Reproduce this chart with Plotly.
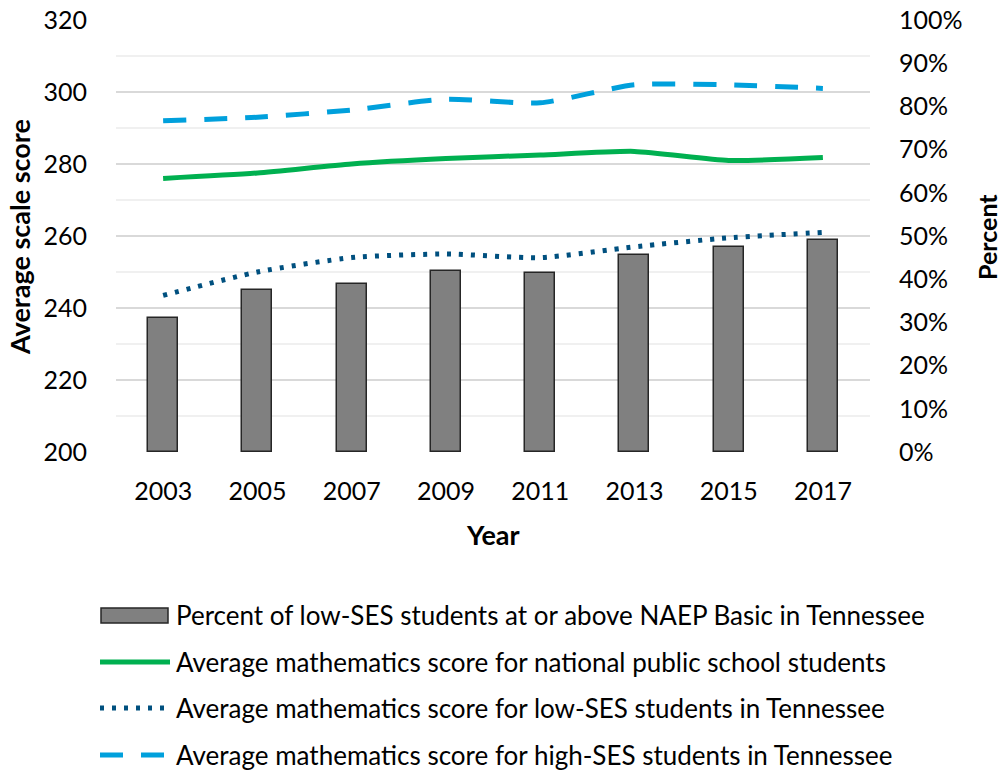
import plotly.graph_objects as go

years = ["2003", "2005", "2007", "2009", "2011", "2013", "2015", "2017"]
pct_low_ses_basic = [31, 37.6, 39, 41.8, 41.4, 45.5, 47.4, 49]
national_public = [276, 277.5, 280, 281.5, 282.5, 283.5, 281, 281.8]
low_ses_tn = [243.5, 250, 254, 255, 254, 257, 259.5, 261]
high_ses_tn = [292, 293, 295, 298, 297, 302, 302, 301]

left_ticks = [200, 220, 240, 260, 280, 300, 320]
right_ticks = [0, 10, 20, 30, 40, 50, 60, 70, 80, 90, 100]

names = [
    "Percent of low-SES students at or above NAEP Basic in Tennessee",
    "Average mathematics score for national public school students",
    "Average mathematics score for low-SES students in Tennessee",
    "Average mathematics score for high-SES students in Tennessee",
]

W, H = 1004, 770
# plot area in pixels: x 116..870, y 20..452
L, T = 116, 20
PW, PH = 870 - 116, 452 - 20
R = W - L - PW
B = H - T - PH
FONT = "Lato"


def px(x):
    return (x - L) / PW


def py(y):
    return (T + PH - y) / PH


C_GREEN = "#00B050"
C_DOT = "#00507F"
C_DASH = "#00A0DC"
C_BAR = "#808080"

fig = go.Figure()
fig.add_trace(go.Bar(x=years, y=pct_low_ses_basic, yaxis="y", width=0.32,
                     marker=dict(color=C_BAR, line=dict(color="#262626", width=1.5)),
                     name=names[0], showlegend=False))
fig.add_trace(go.Scatter(x=years, y=national_public, yaxis="y2", mode="lines",
                         line=dict(color=C_GREEN, width=5, shape="spline", smoothing=0.6),
                         name=names[1], showlegend=False))
fig.add_trace(go.Scatter(x=years, y=low_ses_tn, yaxis="y2", mode="lines",
                         line=dict(color=C_DOT, width=5, dash="4px,8px", shape="spline", smoothing=0.6),
                         name=names[2], showlegend=False))
fig.add_trace(go.Scatter(x=years, y=high_ses_tn, yaxis="y2", mode="lines",
                         line=dict(color=C_DASH, width=5, dash="23px,18px", shape="spline", smoothing=0.6),
                         name=names[3], showlegend=False))

tickfont = dict(family=FONT, size=25, color="#000000")
fig.update_layout(
    width=W, height=H,
    margin=dict(l=L, r=R, t=T, b=B, autoexpand=False),
    paper_bgcolor="white", plot_bgcolor="white",
    font=dict(family=FONT, color="#000000"),
    bargap=0,
    xaxis=dict(type="category", range=[-0.5, 7.5], showgrid=False, showline=False,
               zeroline=False, ticks="", tickfont=tickfont, ticklabelstandoff=22),
    yaxis=dict(side="right", range=[0, 100], tickvals=right_ticks,
               ticktext=[f"{v}%" for v in right_ticks], showgrid=False, zeroline=False,
               showline=False, ticks="", tickfont=tickfont, ticklabelstandoff=28),
    yaxis2=dict(side="left", overlaying="y", range=[200, 320], tickvals=left_ticks,
                showgrid=True, gridcolor="#D9D9D9", gridwidth=1.5, zeroline=False,
                showline=False, ticks="", tickfont=tickfont, ticklabelstandoff=28,
                minor=dict(dtick=10, tick0=200, showgrid=True, gridcolor="#F0F0F0", gridwidth=1.5)),
)

ann = [
    dict(x=px(19), y=py(237), text="<b>Average scale score</b>", textangle=-90, size=27),
    dict(x=px(987), y=py(237), text="<b>Percent</b>", textangle=-90, size=25),
    dict(x=px(493), y=py(534), text="<b>Year</b>", textangle=0, size=27),
]
for a in ann:
    size = a.pop("size")
    fig.add_annotation(xref="paper", yref="paper", showarrow=False, xanchor="center",
                       yanchor="middle", font=dict(family=FONT, size=size, color="#000000"), **a)

# custom legend
rows = [615, 662, 708, 755]
for i, (nm, yy) in enumerate(zip(names, rows)):
    fig.add_annotation(xref="paper", yref="paper", x=px(174), y=py(yy), text=nm,
                       showarrow=False, xanchor="left", yanchor="middle",
                       font=dict(family=FONT, size=26, color="#000000"))
fig.add_shape(type="rect", xref="paper", yref="paper", x0=px(101), x1=px(168),
              y0=py(623), y1=py(608), fillcolor=C_BAR, line=dict(color="#262626", width=1.5))
fig.add_shape(type="line", xref="paper", yref="paper", x0=px(100), x1=px(170),
              y0=py(rows[1]), y1=py(rows[1]), line=dict(color=C_GREEN, width=5))
fig.add_shape(type="line", xref="paper", yref="paper", x0=px(100), x1=px(170),
              y0=py(rows[2]), y1=py(rows[2]), line=dict(color=C_DOT, width=5, dash="4px,8px"))
fig.add_shape(type="line", xref="paper", yref="paper", x0=px(100), x1=px(170),
              y0=py(rows[3]), y1=py(rows[3]), line=dict(color=C_DASH, width=5, dash="23px,18px"))

fig.write_html("out.html", config={"displayModeBar": False},
               post_script="document.body.style.margin='0';")
